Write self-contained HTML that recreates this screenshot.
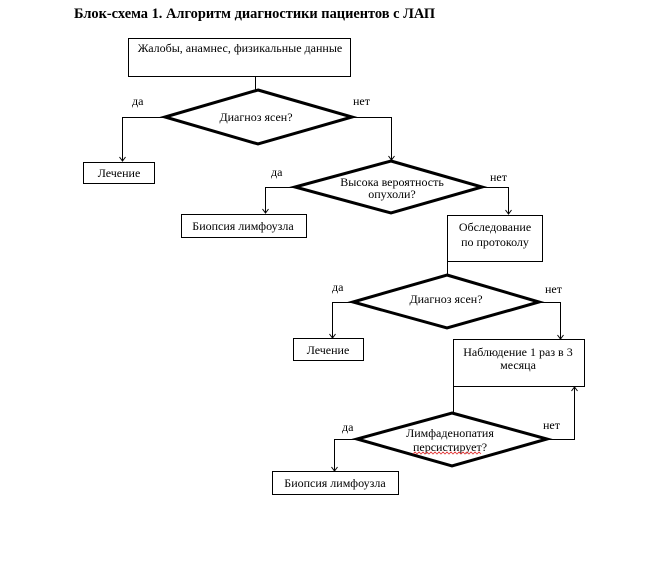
<!DOCTYPE html>
<html><head><meta charset="utf-8"><style>
html,body{margin:0;padding:0;background:#fff;}
svg{display:block;}
text{font-family:"Liberation Serif","Noto Serif CJK SC",serif;font-size:12px;fill:#000;}
.t{font-weight:bold;font-size:14.4px;}
.c{text-anchor:middle;}
.b{fill:#fff;stroke:#000;stroke-width:1;}
.d{fill:#fff;stroke:#000;stroke-width:3;stroke-linejoin:miter;}
.l{fill:none;stroke:#000;stroke-width:1;}
</style></head><body>
<svg width="654" height="570" viewBox="0 0 654 570" xmlns="http://www.w3.org/2000/svg">
<rect width="654" height="570" fill="#fff"/>
<text x="74" y="18" class="t">Блок-схема 1. Алгоритм диагностики пациентов с ЛАП</text>

<!-- box 1 -->
<rect class="b" x="128.5" y="38.5" width="222" height="38"/>
<text x="240" y="52" class="c">Жалобы, анамнес, физикальные данные</text>
<polyline class="l" points="255.5,77 255.5,90"/>

<!-- diamond 1 -->
<polygon class="d" points="258,90 352,117 258,144 165,117"/>
<text x="256" y="121" class="c">Диагноз ясен?</text>
<text x="132" y="105">да</text>
<text x="353" y="105">нет</text>
<polyline class="l" points="165,117.5 122.5,117.5 122.5,161"/>
<polyline class="l" points="119.5,157 122.5,161 125.5,157"/>
<rect class="b" x="83.5" y="162.5" width="71" height="21"/>
<text x="119" y="177" class="c">Лечение</text>
<polyline class="l" points="352,117.5 391.5,117.5 391.5,160"/>
<polyline class="l" points="388.5,156 391.5,160 394.5,156"/>

<!-- diamond 2 -->
<polygon class="d" points="391,161 482,187 391,213 295,187"/>
<text x="392" y="186" class="c">Высока вероятность</text>
<text x="392" y="198" class="c">опухоли?</text>
<text x="271" y="176">да</text>
<text x="490" y="181">нет</text>
<polyline class="l" points="295,187.5 265.5,187.5 265.5,213"/>
<polyline class="l" points="262.5,209 265.5,213 268.5,209"/>
<rect class="b" x="181.5" y="214.5" width="125" height="23"/>
<text x="243" y="230" class="c">Биопсия лимфоузла</text>
<polyline class="l" points="482,187.5 508.5,187.5 508.5,214"/>
<polyline class="l" points="505.5,210 508.5,214 511.5,210"/>
<rect class="b" x="447.5" y="215.5" width="95" height="46"/>
<text x="495" y="231" class="c">Обследование</text>
<text x="495" y="246" class="c">по протоколу</text>
<polyline class="l" points="447.5,261 447.5,275"/>

<!-- diamond 3 -->
<polygon class="d" points="447,275 539,302 447,328 353,302"/>
<text x="446" y="303" class="c">Диагноз ясен?</text>
<text x="332" y="291">да</text>
<text x="545" y="293">нет</text>
<polyline class="l" points="353,302.5 332.5,302.5 332.5,338"/>
<polyline class="l" points="329.5,334 332.5,338 335.5,334"/>
<rect class="b" x="293.5" y="338.5" width="70" height="22"/>
<text x="328" y="354" class="c">Лечение</text>
<polyline class="l" points="539,302.5 560.5,302.5 560.5,339"/>
<polyline class="l" points="557.5,335 560.5,339 563.5,335"/>
<rect class="b" x="453.5" y="339.5" width="131" height="47"/>
<text x="518" y="356" class="c">Наблюдение 1 раз в 3</text>
<text x="518" y="369" class="c">месяца</text>
<polyline class="l" points="453.5,386 453.5,413"/>

<!-- diamond 4 -->
<polygon class="d" points="452,413 547,439 452,466 357,439"/>
<text x="450" y="437" class="c">Лимфаденопатия</text>
<text x="450" y="451" class="c">персистирует?</text>
<polyline fill="none" stroke="#e03030" stroke-width="0.8" points="413,454 415,452 417,454 419,452 421,454 423,452 425,454 427,452 429,454 431,452 433,454 435,452 437,454 439,452 441,454 443,452 445,454 447,452 449,454 451,452 453,454 455,452 457,454 459,452 461,454 463,452 465,454 467,452 469,454 471,452 473,454 475,452 477,454 479,452 481,454"/>
<text x="342" y="431">да</text>
<text x="543" y="429">нет</text>
<polyline class="l" points="547,439.5 574.5,439.5 574.5,387"/>
<polyline class="l" points="571.5,391 574.5,387 577.5,391"/>
<polyline class="l" points="357,439.5 334.5,439.5 334.5,471"/>
<polyline class="l" points="331.5,467 334.5,471 337.5,467"/>
<rect class="b" x="272.5" y="471.5" width="126" height="23"/>
<text x="335" y="487" class="c">Биопсия лимфоузла</text>
</svg>
</body></html>
